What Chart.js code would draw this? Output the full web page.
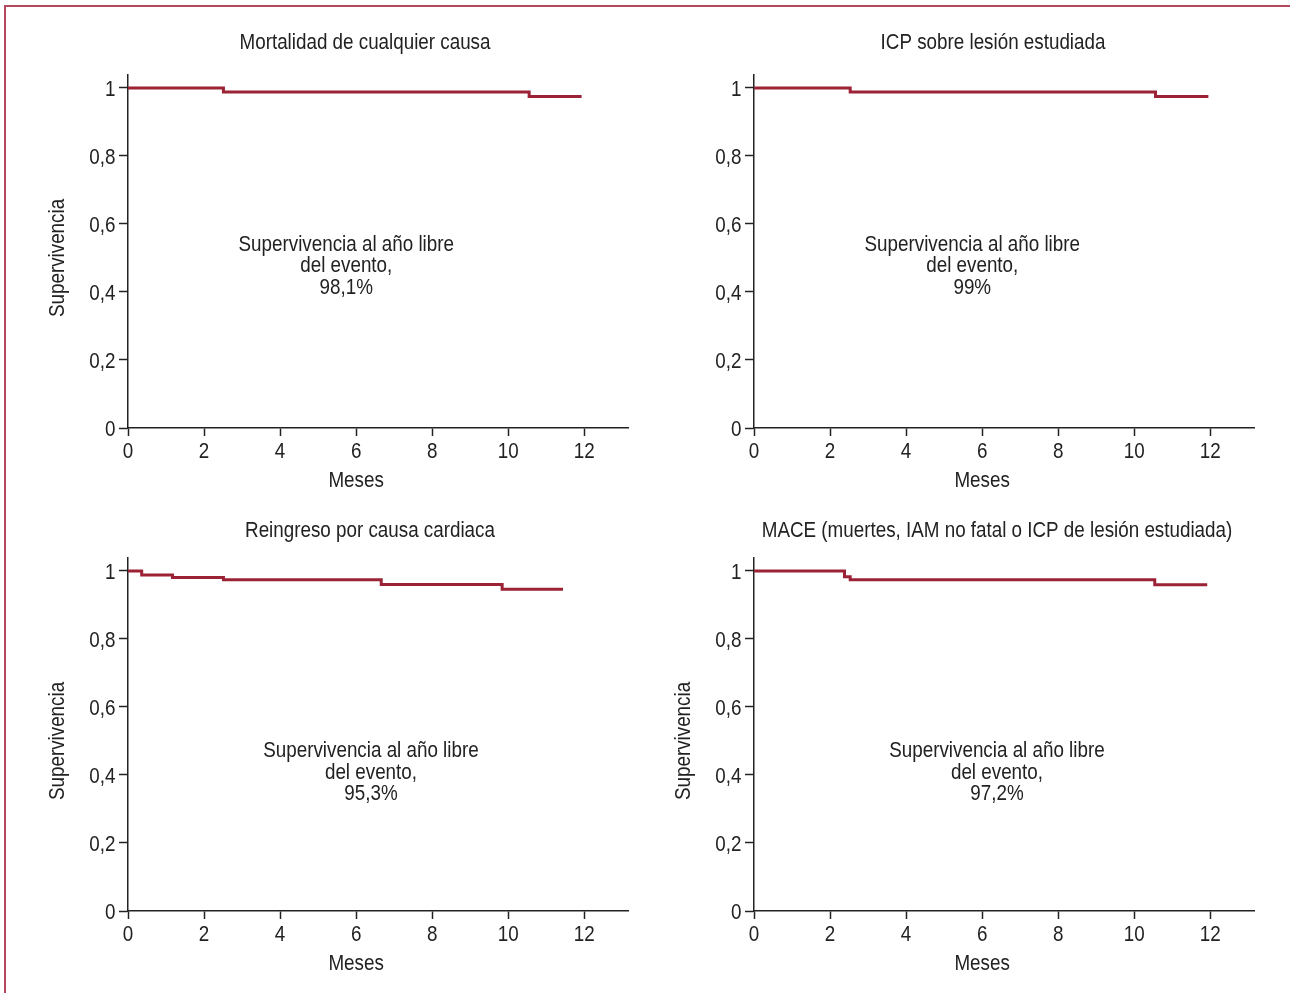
<!DOCTYPE html>
<html>
<head>
<meta charset="utf-8">
<script src="https://cdn.jsdelivr.net/npm/chart.js@4.4.1/dist/chart.umd.min.js"></script>
<style>
  body { margin: 0; background: #fff; width: 1290px; height: 993px; overflow: hidden; position: relative; }
  .frame { position: absolute; left: 4px; top: 5px; right: 0; bottom: 0; border-top: 2px solid #b4485f; border-left: 2px solid #b4485f; }
  .panel { position: absolute; width: 645px; height: 496px; }
</style>
</head>
<body>
<div class="frame"></div>
<div class="panel" style="left:0;top:0"><canvas id="c1" width="645" height="496"></canvas></div>
<div class="panel" style="left:626px;top:0"><canvas id="c2" width="645" height="496"></canvas></div>
<div class="panel" style="left:0;top:483px"><canvas id="c3" width="645" height="496"></canvas></div>
<div class="panel" style="left:626px;top:483px"><canvas id="c4" width="645" height="496"></canvas></div>
<script>
// data (months, survival)
const mesesMortalidad = [0, 2.51, 10.55, 11.93];
const supMortalidad   = [1, 0.988, 0.975, 0.975];
const mesesIcp = [0, 2.53, 10.56, 11.95];
const supIcp   = [1, 0.988, 0.975, 0.975];
const mesesReingreso = [0, 0.36, 1.17, 2.51, 6.66, 9.84, 11.44];
const supReingreso   = [1, 0.988, 0.981, 0.974, 0.960, 0.946, 0.946];
const mesesMace = [0, 2.38, 2.53, 10.54, 11.92];
const supMace   = [1, 0.983, 0.974, 0.959, 0.959];

const xTicks = [0, 2, 4, 6, 8, 10, 12];
const yTicks = [0, 0.2, 0.4, 0.6, 0.8, 1];
const titulos = ['Mortalidad de cualquier causa', 'ICP sobre lesión estudiada', 'Reingreso por causa cardiaca', 'MACE (muertes, IAM no fatal o ICP de lesión estudiada)'];
const porcentajes = ['98,1%', '99%', '95,3%', '97,2%'];
const notaLineas = ['Supervivencia al año libre', 'del evento,'];

const FONT = '"Liberation Sans", Arial, sans-serif';
const FSIZE = 22;
const SX = 0.855;   // horizontal squeeze, the figure uses a condensed face
const INK = '#222';
const RED = '#9b2335';

function fmtY(v) {
  return (v === 0 || v === 1) ? String(v) : v.toFixed(1).replace('.', ',');
}

function txt(ctx, s, x, y, align, rot) {
  ctx.save();
  ctx.translate(x, y);
  if (rot) ctx.rotate(rot);
  ctx.scale(SX, 1);
  ctx.textAlign = align || 'center';
  ctx.fillText(s, 0, 0);
  ctx.restore();
}

// all the text: condensed tick labels, titles and the in-plot note
const textPlugin = {
  id: 'panelText',
  afterDraw(chart, args, o) {
    const { ctx, chartArea, scales: { x, y } } = chart;
    ctx.save();
    ctx.fillStyle = INK;
    ctx.textBaseline = 'alphabetic';
    ctx.font = FSIZE + 'px ' + FONT;
    xTicks.forEach(v => txt(ctx, String(v), x.getPixelForValue(v), chartArea.bottom + 29.5));
    yTicks.forEach(v => txt(ctx, fmtY(v), chartArea.left - 12.5, y.getPixelForValue(v) + 8, 'right'));
    txt(ctx, o.title, o.titleX, o.titleY);
    txt(ctx, 'Meses', x.getPixelForValue(6), chartArea.bottom + 59);
    const lines = notaLineas.concat([o.pct]);
    lines.forEach((t, i) => txt(ctx, t, x.getPixelForValue(o.noteX), y.getPixelForValue(o.noteY) + 8 + i * 21.8));
    if (o.yTitle) txt(ctx, 'Supervivencia', chartArea.left - 64, y.getPixelForValue(0.5), 'center', -Math.PI / 2);
    ctx.restore();
  }
};

function makeChart(id, meses, sup, opts) {
  new Chart(document.getElementById(id), {
    type: 'line',
    data: {
      datasets: [{
        data: meses.map((m, i) => ({ x: m, y: sup[i] })),
        borderColor: RED, borderWidth: 3, pointRadius: 0,
        stepped: true, fill: false, tension: 0
      }]
    },
    options: {
      responsive: false, animation: false, events: [],
      layout: { padding: { left: 48, right: 17, top: 75, bottom: 8 } },
      plugins: { legend: { display: false }, tooltip: { enabled: false }, panelText: opts },
      scales: {
        x: {
          type: 'linear', min: 0, max: 13.15,
          afterBuildTicks: s => { s.ticks = xTicks.map(v => ({ value: v })); },
          afterFit: s => { s.height = 60; },
          ticks: { display: false },
          grid: { drawOnChartArea: false, drawTicks: true, tickLength: 8, tickWidth: 1.5, tickColor: INK },
          border: { color: INK, width: 1.5 }
        },
        y: {
          type: 'linear', min: 0, max: 1.038,
          afterBuildTicks: s => { s.ticks = yTicks.map(v => ({ value: v })); },
          afterFit: s => { s.width = 80; },
          ticks: { display: false },
          grid: { drawOnChartArea: false, drawTicks: true, tickLength: 9, tickWidth: 1.5, tickColor: INK },
          border: { color: INK, width: 1.5 }
        }
      }
    },
    plugins: [textPlugin]
  });
}

makeChart('c1', mesesMortalidad, supMortalidad, { title: titulos[0], titleX: 365, titleY: 49, pct: porcentajes[0], noteX: 5.74, noteY: 0.545, yTitle: true });
makeChart('c2', mesesIcp, supIcp, { title: titulos[1], titleX: 367, titleY: 49, pct: porcentajes[1], noteX: 5.74, noteY: 0.545, yTitle: false });
makeChart('c3', mesesReingreso, supReingreso, { title: titulos[2], titleX: 370, titleY: 53.5, pct: porcentajes[2], noteX: 6.39, noteY: 0.477, yTitle: true });
makeChart('c4', mesesMace, supMace, { title: titulos[3], titleX: 371, titleY: 53.5, pct: porcentajes[3], noteX: 6.39, noteY: 0.477, yTitle: true });
</script>
</body>
</html>
